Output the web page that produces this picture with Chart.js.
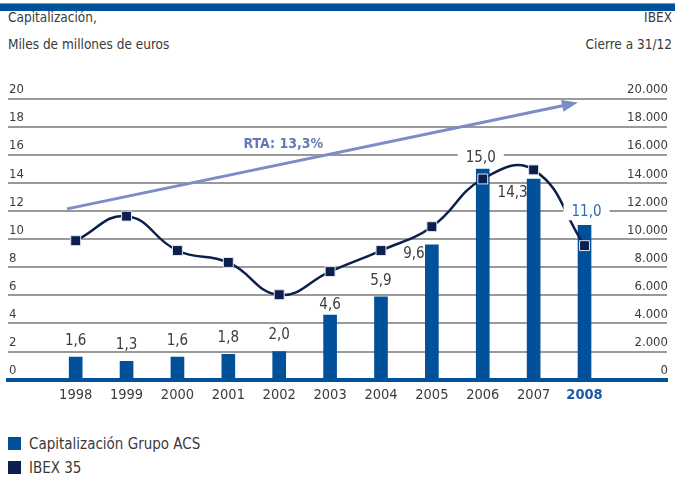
<!DOCTYPE html>
<html>
<head>
<meta charset="utf-8">
<script src="https://cdn.jsdelivr.net/npm/chart.js@4.4.1/dist/chart.umd.min.js"></script>
<style>
  html, body { margin: 0; padding: 0; background: #fff; }
  body {
    width: 675px; height: 477px; position: relative; overflow: hidden;
    font-family: "Liberation Sans Narrow", "DejaVu Sans Condensed", "Liberation Sans", sans-serif;
    color: #3a3a3a;
  }
  .banda { position: absolute; left: 0; top: 3px; width: 675px; height: 7px; background: #00529b; border-top: 1px solid #6d98c8; }
  .cab { position: absolute; top: 4px; font-size: 13.5px; line-height: 27px; }
  .izq { left: 8px; }
  .der { right: 3px; text-align: right; }
  #wrap { position: absolute; left: 0; top: 0; width: 675px; height: 420px; }
  #leyenda { position: absolute; left: 8px; top: 434px; font-size: 15px; }
  #leyenda div { height: 24px; line-height: 20px; white-space: nowrap; }
  #leyenda span { display: inline-block; width: 13px; height: 13px; margin-right: 8px; vertical-align: -1px; }
</style>
</head>
<body>
<div class="banda"></div>
<div class="cab izq">Capitalización,<br>Miles de millones de euros</div>
<div class="cab der">IBEX<br>Cierre a 31/12</div>
<div id="wrap"><canvas id="grafico"></canvas></div>
<div id="leyenda"></div>

<script>
// Datos
const anios = [1998, 1999, 2000, 2001, 2002, 2003, 2004, 2005, 2006, 2007, 2008];
const capitalizacion = [1.6, 1.3, 1.6, 1.8, 2.0, 4.6, 5.9, 9.6, 15.0, 14.3, 11.0];   // miles de millones de euros
const ibex = [9900, 11650, 9200, 8350, 6050, 7700, 9200, 10900, 14300, 14950, 9550];  // cierre a 31/12
const ticksIzq = [0, 2, 4, 6, 8, 10, 12, 14, 16, 18, 20];
const ticksDer = [0, 2000, 4000, 6000, 8000, 10000, 12000, 14000, 16000, 18000, 20000];
const rtaTexto = 'RTA: 13,3%';

const AZUL = '#00519a';
const MARINO = '#0c1f4e';
const FLECHA = '#7b8dc6';
const GRIS = '#3c3c3c';
const FUENTE = '"Liberation Sans Narrow", "DejaVu Sans Condensed", "Liberation Sans", sans-serif';

// colocación de algunas etiquetas (desplazamiento respecto al extremo de la barra)
const ajustes = {
    2003: { dx: 0, dy: -10 },
    2005: { dx: -18, dy: 9 },
    2006: { dx: -2, dy: -11, fondo: true },
    2007: { dx: -21, dy: 14 },
    2008: { dx: 2, dy: -13, fondo: true, color: '#2c6db4' }
};

const etiquetas = {
    id: 'etiquetas',
    afterDatasetsDraw(chart) {
        const ctx = chart.ctx;
        const meta = chart.getDatasetMeta(0);
        ctx.save();
        ctx.font = '15px ' + FUENTE;
        ctx.textAlign = 'center';
        ctx.textBaseline = 'middle';
        meta.data.forEach((barra, i) => {
            const txt = capitalizacion[i].toFixed(1).replace('.', ',');
            const a = ajustes[anios[i]] || { dx: 0, dy: -16 };
            const x = barra.x + a.dx;
            const y = barra.y + a.dy;
            if (a.fondo) {
                const w = ctx.measureText(txt).width;
                ctx.fillStyle = '#fff';
                ctx.fillRect(x - w / 2 - 8, y - 8, w + 16, 16);
            }
            ctx.fillStyle = a.color || GRIS;
            ctx.fillText(txt, x, y);
        });
        ctx.restore();
    }
};

const flecha = {
    id: 'flecha',
    beforeDatasetsDraw(chart) {
        const { ctx, scales: { x, y } } = chart;
        const x0 = x.getPixelForValue(1997.83), y0 = y.getPixelForValue(12.17);
        const x1 = x.getPixelForValue(2007.87), y1 = y.getPixelForValue(19.75);
        const ang = Math.atan2(y1 - y0, x1 - x0);
        ctx.save();
        ctx.strokeStyle = FLECHA;
        ctx.fillStyle = FLECHA;
        ctx.lineWidth = 3;
        ctx.beginPath();
        ctx.moveTo(x0, y0);
        ctx.lineTo(x1 - 12 * Math.cos(ang), y1 - 12 * Math.sin(ang));
        ctx.stroke();
        ctx.beginPath();
        ctx.moveTo(x1, y1);
        ctx.lineTo(x1 - 16 * Math.cos(ang) - 6 * Math.sin(ang), y1 - 16 * Math.sin(ang) + 6 * Math.cos(ang));
        ctx.lineTo(x1 - 16 * Math.cos(ang) + 6 * Math.sin(ang), y1 - 16 * Math.sin(ang) - 6 * Math.cos(ang));
        ctx.closePath();
        ctx.fill();
        ctx.font = 'bold 14px ' + FUENTE;
        ctx.textAlign = 'center';
        ctx.textBaseline = 'middle';
        ctx.fillStyle = '#6479b8';
        ctx.fillText(rtaTexto, x.getPixelForValue(2002.08), y.getPixelForValue(16.8));
        ctx.restore();
    }
};

const grafico = new Chart(document.getElementById('grafico').getContext('2d'), {
    data: {
        datasets: [{
            type: 'bar',
            label: 'Capitalización Grupo ACS',
            data: anios.map((a, i) => ({ x: a, y: capitalizacion[i] })),
            backgroundColor: AZUL,
            barThickness: 13,
            yAxisID: 'y',
            order: 2
        }, {
            type: 'line',
            label: 'IBEX 35',
            data: anios.map((a, i) => ({ x: a, y: ibex[i] })),
            borderColor: MARINO,
            borderWidth: 2.5,
            tension: 0.45,
            pointStyle: 'rect',
            pointRadius: 7,
            pointBackgroundColor: MARINO,
            pointBorderColor: '#dfe6f0',
            pointBorderWidth: 1,
            yAxisID: 'y1',
            order: 1
        }]
    },
    plugins: [flecha, etiquetas],
    options: {
        responsive: true,
        maintainAspectRatio: false,
        animation: false,
        layout: { padding: { left: 6, right: -7, top: 99, bottom: 17 } },
        plugins: {
            legend: { display: false },
            tooltip: { enabled: false }
        },
        scales: {
            x: {
                type: 'linear',
                offset: false,
                min: 1996.670,
                max: 2009.621,
                afterBuildTicks: s => { s.ticks = anios.map(v => ({ value: v })); },
                grid: { display: false },
                border: { display: true, color: AZUL, width: 4 },
                ticks: {
                    padding: -1,
                    autoSkip: false,
                    maxRotation: 0,
                    callback: v => String(v),
                    color: c => c.tick && c.tick.value === 2008 ? '#1d5ba8' : GRIS,
                    font: c => ({ family: FUENTE, size: 14.5, weight: c.tick && c.tick.value === 2008 ? 'bold' : 'normal' })
                }
            },
            y: {
                position: 'left',
                min: 0,
                max: 20,
                afterBuildTicks: s => { s.ticks = ticksIzq.map(v => ({ value: v })); },
                border: { display: false },
                grid: { color: '#9a9a9a', lineWidth: 2, drawTicks: false },
                ticks: {
                    mirror: true,
                    padding: 1,
                    labelOffset: -9,
                    color: GRIS,
                    font: { family: FUENTE, size: 13 }
                }
            },
            y1: {
                position: 'right',
                min: 0,
                max: 20000,
                afterBuildTicks: s => { s.ticks = ticksDer.map(v => ({ value: v })); },
                border: { display: false },
                grid: { display: false, drawTicks: false },
                ticks: {
                    mirror: true,
                    padding: 1,
                    labelOffset: -9,
                    color: GRIS,
                    font: { family: FUENTE, size: 13 },
                    callback: v => String(v).replace(/\B(?=(\d{3})+(?!\d))/g, '.')
                }
            }
        }
    }
});

// Leyenda
document.getElementById('leyenda').innerHTML = grafico.data.datasets.map(d =>
    '<div><span style="background:' + (d.type === 'bar' ? d.backgroundColor : d.pointBackgroundColor) + '"></span>' + d.label + '</div>'
).join('');
</script>
</body>
</html>
